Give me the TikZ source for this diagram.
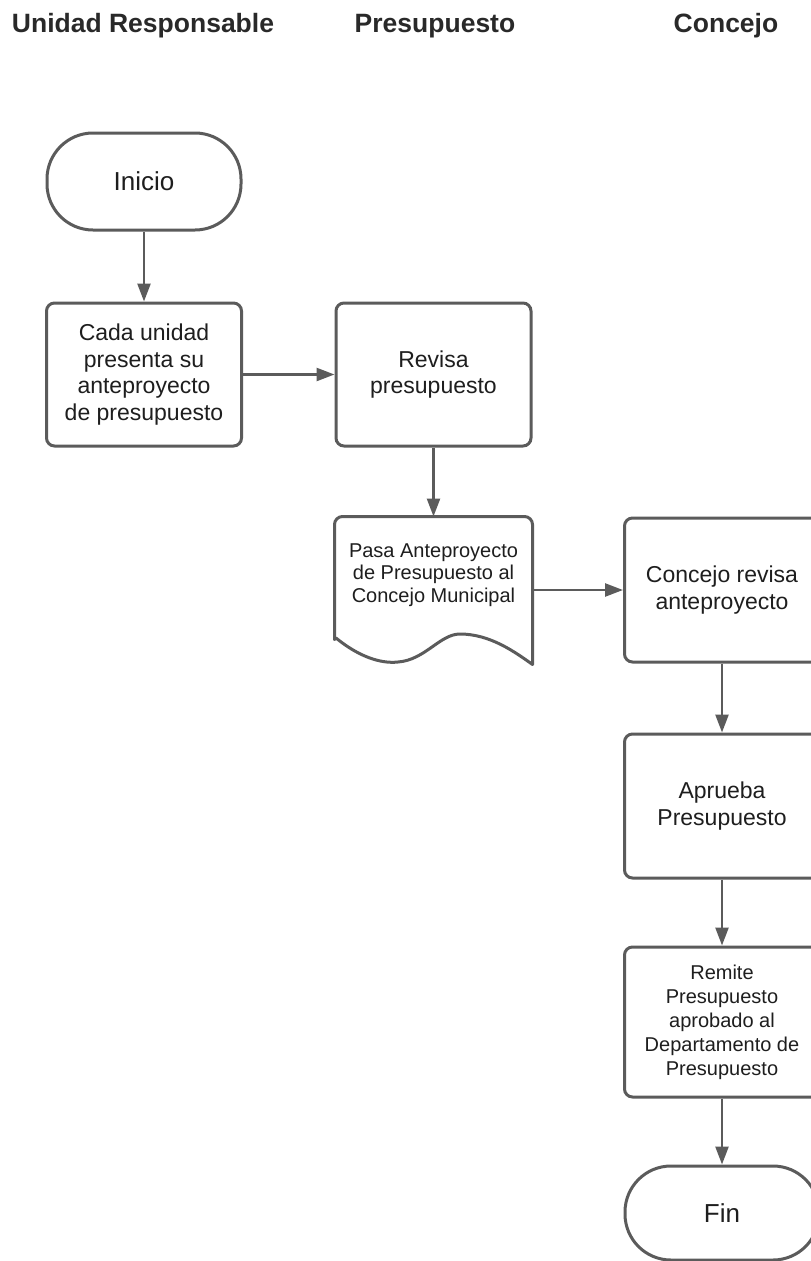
\documentclass[tikz,border=0pt]{standalone}
\usepackage{fontspec}
\setmainfont{Liberation Sans}
\usetikzlibrary{arrows.meta}
\definecolor{edge}{HTML}{5B5B5B}
\definecolor{ink}{HTML}{1E1E1E}
\begin{document}
\begin{tikzpicture}[x=1pt,y=-1pt,
  box/.style={draw=edge, line width=3pt, rounded corners=8pt, fill=white,
    minimum width=195pt, align=center, text=ink, inner sep=0pt,
    font=\fontsize{23}{26.5}\selectfont},
  smallbox/.style={box, font=\fontsize{20}{24}\selectfont},
  term/.style={draw=edge, line width=3pt, rounded corners=46pt, fill=white,
    minimum width=194pt, text=ink, inner sep=0pt,
    font=\fontsize{26}{30}\selectfont},
  flow/.style={draw=edge, line width=2.5pt, -{Triangle[length=18pt,width=13pt]}},
  lane/.style={font=\bfseries\fontsize{26.5}{30}\selectfont, text=ink!95}]

\useasboundingbox (0,0) rectangle (811,1261);
\clip (0,0) rectangle (811,1261);

% swimlane headings
\node[lane] (h1) at (143,26) {Unidad Responsable};
\node[lane] (h2) at (435,26) {Presupuesto};
\node[lane] (h3) at (726,26) {Concejo};

% first lane
\node[term, minimum height=97pt] (ini) at (144,181.5) {Inicio};
\node[box, minimum height=143pt] (cada) at (144,374.5)
  {Cada unidad\\presenta su\\anteproyecto\\de presupuesto};

% second lane
\node[box, minimum height=143pt] (rev) at (433.5,374.5) {Revisa\\presupuesto};
\node[minimum width=195pt, minimum height=145pt, inner sep=0pt, outer sep=1.5pt]
  (doc) at (433.5,590.5) {};
% document symbol: rounded top, wavy bottom edge
\draw[edge, line width=3pt, fill=white, line join=round, rounded corners=8pt]
  (doc.south west) ++(0,-25) -- (doc.north west) -- (doc.north east)
  [sharp corners] -- (doc.south east)
  .. controls (515,652) and (490,634) .. (460,634)
  .. controls (440,634) and (425,660) .. (398,662)
  .. controls (380,664) and (358,656) .. (336,638) -- cycle;
\node[text=ink, align=center, inner sep=0pt, font=\fontsize{20}{22.5}\selectfont]
  (doctxt) at (433.5,575) {Pasa Anteproyecto\\de Presupuesto al\\Concejo Municipal};

% third lane
\node[box, minimum height=144pt] (con) at (722,590) {Concejo revisa\\anteproyecto};
\node[box, minimum height=144pt] (apr) at (722,806) {Aprueba\\Presupuesto};
\node[smallbox, minimum height=150pt] (rem) at (722,1022)
  {Remite\\Presupuesto\\aprobado al\\Departamento de\\Presupuesto};
\node[term, minimum height=94pt] (fin) at (722,1213) {Fin};

% connectors
\draw[flow] (ini) -- (cada);
\draw[flow] (cada) -- (rev);
\draw[flow] (rev) -- (doc);
\draw[flow] (doc.east |- con.west) -- (con.west);
\draw[flow] (con) -- (apr);
\draw[flow] (apr) -- (rem);
\draw[flow] (rem) -- (fin);
\end{tikzpicture}
\end{document}
